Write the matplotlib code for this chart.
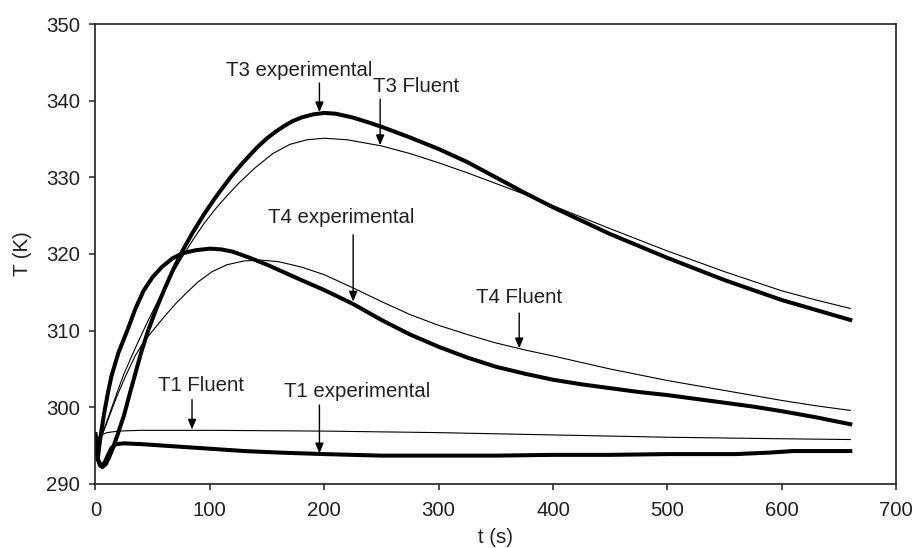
import matplotlib
matplotlib.use("Agg")
import matplotlib.pyplot as plt

plt.rcParams['font.family'] = ['Liberation Sans', 'DejaVu Sans']

# -------------------------------
# data
# -------------------------------
t3_exp_t = [0, 2, 4, 6, 9, 12, 15, 19, 25, 30, 35, 40, 46, 53, 60, 68, 76, 85, 95, 105, 118, 127, 135,
            142, 150, 158, 165, 172, 180, 190, 200, 210, 225, 240, 250, 275, 300, 325, 350, 375, 400,
            450, 500, 550, 600, 630, 660]
t3_exp_T = [295.0, 293.3, 292.4, 292.2, 292.6, 293.5, 294.6, 296.3, 299.0, 301.8, 304.5, 307.2, 310.0,
            312.8, 315.3, 318.0, 320.4, 322.8, 325.2, 327.4, 330.0, 331.6, 332.9, 334.0, 335.1, 336.0,
            336.7, 337.3, 337.8, 338.2, 338.4, 338.3, 337.8, 337.1, 336.6, 335.2, 333.7, 332.0, 330.0,
            328.0, 326.1, 322.6, 319.5, 316.6, 314.0, 312.7, 311.4]

t3_flu_t = [0, 4, 10, 15, 20, 25, 35, 45, 55, 65, 75, 85, 95, 105, 115, 125, 140, 155, 170, 185, 200,
            220, 250, 275, 300, 325, 350, 375, 400, 450, 500, 550, 600, 630, 660]
t3_flu_T = [294.3, 295.7, 298.2, 300.3, 302.4, 304.4, 307.8, 311.0, 314.0, 316.9, 319.4, 321.8, 324.0,
            325.9, 327.6, 329.2, 331.3, 333.1, 334.3, 334.9, 335.1, 334.9, 334.1, 333.1, 331.9, 330.6,
            329.2, 327.8, 326.3, 323.3, 320.4, 317.7, 315.2, 314.0, 312.9]

t4_exp_t = [0, 1, 2, 3, 5, 8, 11, 14, 20, 28, 35, 42, 50, 58, 67, 76, 88, 100, 110, 120, 135, 150, 165,
            180, 200, 225, 250, 275, 300, 325, 350, 375, 400, 425, 450, 475, 500, 525, 550, 575, 600,
            630, 660]
t4_exp_T = [296.2, 294.0, 293.2, 294.6, 296.8, 299.6, 302.0, 304.1, 307.1, 310.1, 312.9, 315.2, 317.0,
            318.3, 319.4, 320.1, 320.5, 320.7, 320.6, 320.3, 319.5, 318.6, 317.6, 316.6, 315.3, 313.5,
            311.4, 309.5, 307.9, 306.5, 305.3, 304.4, 303.6, 303.0, 302.5, 302.0, 301.6, 301.1, 300.6,
            300.1, 299.5, 298.7, 297.8]

t4_flu_t = [0, 4, 10, 15, 20, 27, 35, 42, 49, 60, 70, 80, 90, 102, 115, 130, 145, 160, 180, 200, 225,
            250, 275, 300, 325, 350, 375, 400, 450, 500, 550, 600, 630, 660]
t4_flu_T = [294.3, 295.7, 298.0, 300.0, 301.9, 304.3, 306.8, 308.5, 309.8, 311.8, 313.5, 315.0, 316.4,
            317.7, 318.6, 319.1, 319.2, 319.0, 318.3, 317.3, 315.6, 313.8, 312.1, 310.7, 309.5, 308.4,
            307.5, 306.7, 305.0, 303.5, 302.2, 300.9, 300.2, 299.6]

t1_exp_t = [0, 1, 2, 4, 6, 8, 11, 14, 18, 25, 40, 60, 80, 100, 130, 160, 200, 250, 300, 350, 400, 450,
            500, 560, 590, 610, 660]
t1_exp_T = [296.5, 294.5, 293.2, 292.6, 292.5, 292.8, 293.8, 294.7, 295.2, 295.3, 295.2, 295.0, 294.8,
            294.6, 294.3, 294.1, 293.9, 293.7, 293.7, 293.7, 293.8, 293.8, 293.9, 293.9, 294.1, 294.3,
            294.3]

t1_flu_t = [0, 4, 10, 20, 40, 100, 200, 300, 400, 500, 600, 660]
t1_flu_T = [295.5, 296.3, 296.7, 296.9, 297.0, 297.0, 296.9, 296.7, 296.4, 296.1, 295.9, 295.8]

# labels: text, text position (t, T), arrow tail (t, T), arrow tip (t, T)
labels = ["T3 experimental", "T3 Fluent", "T4 experimental", "T4 Fluent", "T1 Fluent", "T1 experimental"]
text_pos = [(178, 344.0), (280, 341.9), (215, 324.7), (370.5, 314.3), (92, 302.9), (229, 302.0)]
tails = [(195.8, 342.3), (248.9, 340.2), (225.3, 322.5), (370.5, 312.3), (84.4, 301.0), (195.8, 300.3)]
tips = [(195.8, 338.5), (248.9, 334.2), (225.3, 313.8), (370.5, 307.7), (84.4, 297.1), (195.8, 294.0)]

# -------------------------------
# plot
# -------------------------------
ink = '#231f20'
fig = plt.figure(figsize=(9.13, 5.48), dpi=100)
ax = fig.add_axes([0.1046, 0.1168, 0.8768, 0.8394])

for tt, TT in [(t3_exp_t, t3_exp_T), (t4_exp_t, t4_exp_T), (t1_exp_t, t1_exp_T)]:
    ax.plot(tt, TT, color='black', lw=2.9, solid_joinstyle='round')
for tt, TT in [(t3_flu_t, t3_flu_T), (t4_flu_t, t4_flu_T), (t1_flu_t, t1_flu_T)]:
    ax.plot(tt, TT, color='black', lw=0.8)

for lab, pos, tail, tip in zip(labels, text_pos, tails, tips):
    ax.text(pos[0], pos[1], lab, ha='center', va='center', fontsize=14.7, color=ink)
    ax.annotate('', xy=tip, xytext=tail,
                arrowprops=dict(arrowstyle='-|>,head_length=0.6,head_width=0.25', color='black',
                                lw=1.0, mutation_scale=10, shrinkA=0, shrinkB=0))

ax.set_xlim(0, 700)
ax.set_ylim(290, 350)
ax.set_xticks(range(0, 701, 100))
ax.set_yticks(range(290, 351, 10))
ax.set_xlabel("t (s)", fontsize=14.7, color=ink, labelpad=5.5)
ax.set_ylabel("T (K)", fontsize=14.7, color=ink, labelpad=10)
ax.tick_params(direction='out', length=4.5, width=1.1, labelsize=14.7, colors=ink)
ax.tick_params(axis='x', pad=8)
ax.tick_params(axis='y', pad=6.5)
for s in ax.spines.values():
    s.set_linewidth(1.2)
    s.set_color(ink)

plt.savefig("out.png", dpi=100)
